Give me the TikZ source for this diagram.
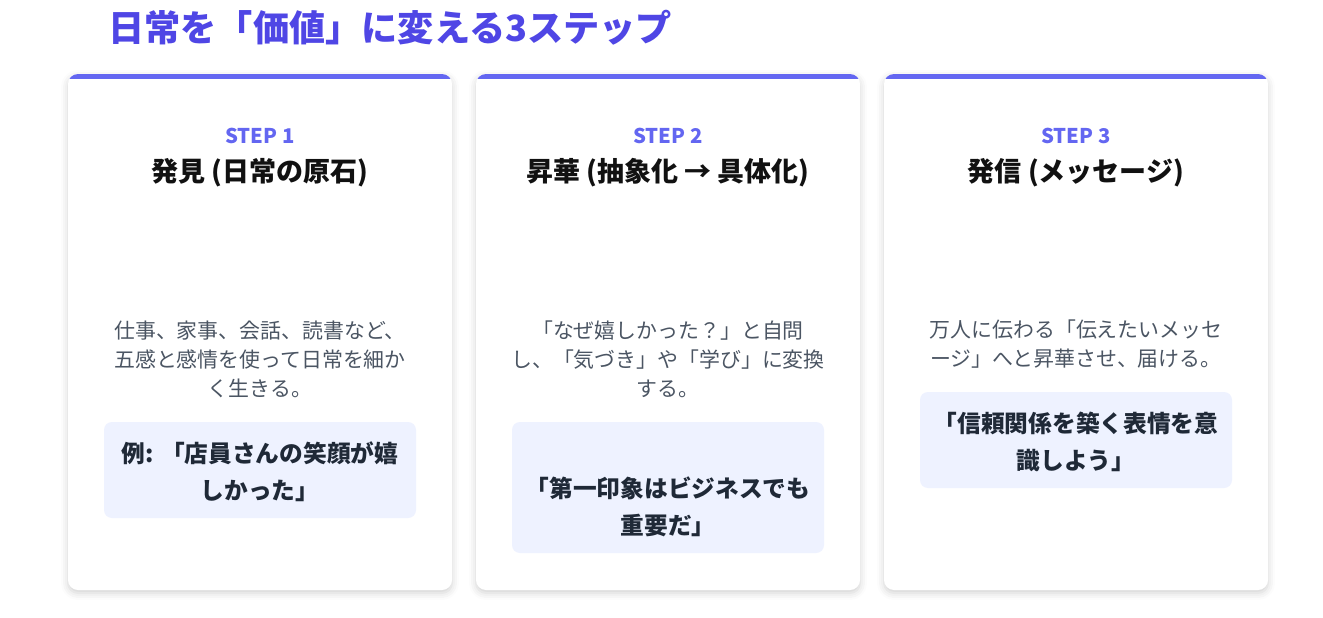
\documentclass[tikz,border=0pt]{standalone}
\usepackage{fontspec}
\setmainfont{Noto Sans CJK JP}
\usetikzlibrary{shadows.blur}
\definecolor{titlec}{HTML}{4F46E5}
\definecolor{accent}{HTML}{6366F1}
\definecolor{bodyc}{HTML}{4B5563}
\definecolor{boxfill}{HTML}{EEF2FF}
\definecolor{boxtext}{HTML}{1F2937}
\definecolor{headc}{HTML}{111111}
\tikzset{
  cardbody/.style={fill=white, rounded corners=10pt, blur shadow={shadow xshift=0pt, shadow yshift=-3pt, shadow blur radius=7pt, shadow opacity=18}},
  steplabel/.style={text=accent, font=\fontsize{20.3}{24}\selectfont\bfseries, inner sep=0pt},
  heading/.style={text=headc, font=\fontsize{27}{32}\selectfont\bfseries, inner sep=0pt},
  bodytext/.style={text=bodyc, font=\fontsize{20.9}{29}\selectfont, align=center, inner sep=0pt},
  examplebox/.style={fill=boxfill, rounded corners=8pt},
  exampletext/.style={text=boxtext, font=\fontsize{23.7}{37}\selectfont\bfseries, align=center, inner sep=0pt},
}
\begin{document}
\begin{tikzpicture}[x=1pt,y=-1pt]
\useasboundingbox (0,0) rectangle (1323,618);
\node[text=titlec, font=\fontsize{36.2}{40}\selectfont\bfseries, anchor=west, inner sep=0pt] (title) at (108,28) {日常を「価値」に変える3ステップ};
% cards
\foreach \i/\x in {1/68,2/476,3/884}{
  \path[cardbody] (\x,74) rectangle ++(384,516);
  \begin{scope}
    \clip[rounded corners=10pt] (\x,74) rectangle ++(384,516);
    \fill[accent] (\x,74) rectangle ++(384,5);
  \end{scope}
}
% card 1
\node[steplabel] (s1) at (260,136) {STEP 1};
\node[heading] (h1) at (260,173) {発見 (日常の原石)};
\node[bodytext] (b1) at (260,359) {仕事、家事、会話、読書など、\\五感と感情を使って日常を細か\\く生きる。};
\path[examplebox] (104,422) rectangle (416,518);
\node[exampletext] (e1) at (260,471.5) {例: 「店員さんの笑顔が嬉\\しかった」};
% card 2
\node[steplabel] (s2) at (668,136) {STEP 2};
\node[heading] (h2) at (668,173) {昇華 (抽象化 → 具体化)};
\node[bodytext] (b2) at (668,359) {「なぜ嬉しかった？」と自問\\し、「気づき」や「学び」に変換\\する。};
\path[examplebox] (512,422) rectangle (824,553);
\node[exampletext] (e2) at (668,507) {「第一印象はビジネスでも\\重要だ」};
% card 3
\node[steplabel] (s3) at (1076,136) {STEP 3};
\node[heading] (h3) at (1076,173) {発信 (メッセージ)};
\node[bodytext] (b3) at (1076,344.5) {万人に伝わる「伝えたいメッセ\\ージ」へと昇華させ、届ける。};
\path[examplebox] (920,392) rectangle (1232,488);
\node[exampletext] (e3) at (1076,441.5) {「信頼関係を築く表情を意\\識しよう」};
\end{tikzpicture}
\end{document}
